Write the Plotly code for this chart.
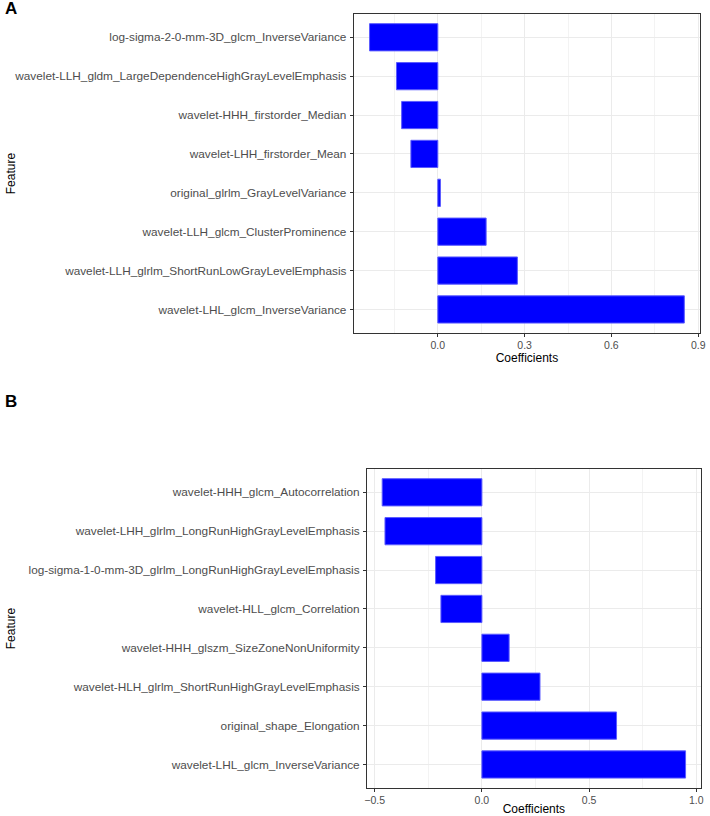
import plotly.graph_objects as go

W, H = 710, 816

features_a = [
    "log-sigma-2-0-mm-3D_glcm_InverseVariance",
    "wavelet-LLH_gldm_LargeDependenceHighGrayLevelEmphasis",
    "wavelet-HHH_firstorder_Median",
    "wavelet-LHH_firstorder_Mean",
    "original_glrlm_GrayLevelVariance",
    "wavelet-LLH_glcm_ClusterProminence",
    "wavelet-LLH_glrlm_ShortRunLowGrayLevelEmphasis",
    "wavelet-LHL_glcm_InverseVariance",
]
coef_a = [-0.236, -0.143, -0.125, -0.093, 0.009, 0.167, 0.275, 0.852]

features_b = [
    "wavelet-HHH_glcm_Autocorrelation",
    "wavelet-LHH_glrlm_LongRunHighGrayLevelEmphasis",
    "log-sigma-1-0-mm-3D_glrlm_LongRunHighGrayLevelEmphasis",
    "wavelet-HLL_glcm_Correlation",
    "wavelet-HHH_glszm_SizeZoneNonUniformity",
    "wavelet-HLH_glrlm_ShortRunHighGrayLevelEmphasis",
    "original_shape_Elongation",
    "wavelet-LHL_glcm_InverseVariance",
]
coef_b = [-0.465, -0.452, -0.216, -0.191, 0.127, 0.271, 0.628, 0.950]

ticks_a = [0.0, 0.3, 0.6, 0.9]
ticks_a_text = ["0.0", "0.3", "0.6", "0.9"]
ticks_b = [-0.5, 0.0, 0.5, 1.0]
ticks_b_text = ["\u22120.5", "0.0", "0.5", "1.0"]

FONT = "Liberation Sans, Arial, sans-serif"
TICKCOL = "#4D4D4D"
BLUE = "#0000FF"


def xrange(vals):
    lo, hi = min(min(vals), 0), max(vals)
    pad = (hi - lo) * 0.05
    return [lo - pad, hi + pad]


fig = go.Figure()
fig.add_trace(go.Bar(x=coef_a, y=features_a, orientation="h", width=0.7,
                     marker=dict(color=BLUE, line=dict(color="#5b5bff", width=1)),
                     xaxis="x", yaxis="y", showlegend=False))
fig.add_trace(go.Bar(x=coef_b, y=features_b, orientation="h", width=0.7,
                     marker=dict(color=BLUE, line=dict(color="#5b5bff", width=1)),
                     xaxis="x2", yaxis="y2", showlegend=False))


def px_x(p):
    return p / W


def px_y(p):
    return 1 - p / H


common_x = dict(showline=True, linecolor="#333333", linewidth=1, mirror=True,
                ticks="outside", ticklen=3, tickcolor="#333333", tickwidth=1,
                showgrid=True, gridcolor="#EBEBEB", gridwidth=1,
                zeroline=False,
                tickfont=dict(family=FONT, size=10.5, color=TICKCOL),
                title=dict(text="Coefficients", font=dict(family=FONT, size=12, color="black"), standoff=1))
common_y = dict(showline=True, linecolor="#333333", linewidth=1, mirror=True,
                ticks="outside", ticklen=3, tickcolor="#333333", tickwidth=1,
                showgrid=True, gridcolor="#EBEBEB", gridwidth=1,
                zeroline=False, type="category",
                range=[7.6, -0.6],
                tickfont=dict(family=FONT, size=11.8, color=TICKCOL),
                ticklabelstandoff=1)

fig.update_layout(
    width=W, height=H,
    margin=dict(l=0, r=0, t=0, b=0),
    paper_bgcolor="white", plot_bgcolor="white",
    bargap=0.3,
    xaxis=dict(domain=[px_x(355.3), px_x(706)], anchor="y",
               range=xrange(coef_a), tickvals=ticks_a, ticktext=ticks_a_text,
               minor=dict(dtick=0.15, tick0=0, showgrid=True, gridcolor="#F3F3F3", ticks=""),
               **common_x),
    yaxis=dict(domain=[px_y(334), px_y(14)], anchor="x",
               categoryorder="array", categoryarray=features_a, **common_y),
    xaxis2=dict(domain=[px_x(368.7), px_x(706.7)], anchor="y2",
                range=xrange(coef_b), tickvals=ticks_b, ticktext=ticks_b_text,
                minor=dict(dtick=0.25, tick0=0, showgrid=True, gridcolor="#F3F3F3", ticks=""),
                **common_x),
    yaxis2=dict(domain=[px_y(790.7), px_y(470.7)], anchor="x2",
                categoryorder="array", categoryarray=features_b, **common_y),
    annotations=[
        dict(text="<b>A</b>", x=0, y=px_y(9), xref="paper", yref="paper",
             xanchor="left", yanchor="middle", showarrow=False,
             font=dict(family=FONT, size=17, color="black")),
        dict(text="<b>B</b>", x=0, y=px_y(403), xref="paper", yref="paper",
             xanchor="left", yanchor="middle", showarrow=False,
             font=dict(family=FONT, size=17, color="black")),
        dict(text="Feature", x=px_x(8), y=px_y(174), xref="paper", yref="paper",
             xanchor="center", yanchor="middle", showarrow=False, textangle=-90,
             font=dict(family=FONT, size=12, color="black")),
        dict(text="Feature", x=px_x(8), y=px_y(630.7), xref="paper", yref="paper",
             xanchor="center", yanchor="middle", showarrow=False, textangle=-90,
             font=dict(family=FONT, size=12, color="black")),
    ],
)

fig.write_html("out.html", config={"displayModeBar": False})

with open("out.html", "r", encoding="utf-8") as f:
    html = f.read()
html = html.replace("<head>", "<head><style>html,body{margin:0;padding:0;overflow:hidden;}</style>", 1)
with open("out.html", "w", encoding="utf-8") as f:
    f.write(html)
